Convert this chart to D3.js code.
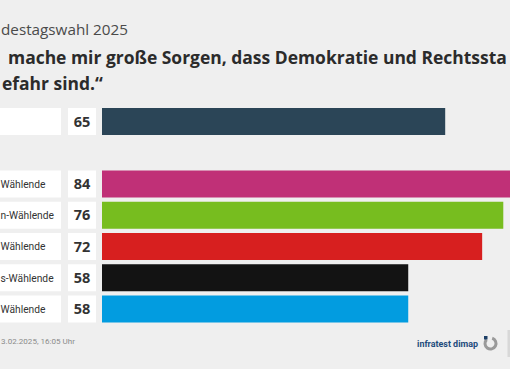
<!DOCTYPE html>
<html><head><meta charset="utf-8">
<script src="https://cdn.jsdelivr.net/npm/d3@7"></script>
<style>
html,body{margin:0;padding:0;background:#efefef;overflow:hidden;}
svg{display:block;}
</style></head>
<body>
<script>
// Visible text of the (left/right-cropped) reference
const kicker = "destagswahl 2025";
const headlineLines = ["mache mir große Sorgen, dass Demokratie und Rechtssta", "efahr sind.“"];
const categories = ["", "Wählende", "n-Wählende", "Wählende", "s-Wählende", "Wählende"];
const values = [65, 84, 76, 72, 58, 58];
const barColors = ["#2b4557", "#c03077", "#77bd1f", "#d71f1f", "#131313", "#029ce0"];
const sourceText = "3.02.2025, 16:05 Uhr";
const brandText = "infratest dimap";

const W = 510, H = 369;
const font = "'Open Sans', 'Noto Sans', sans-serif";
const narrow = "Roboto, 'Open Sans', sans-serif";
const svg = d3.select("body").append("svg").attr("width", W).attr("height", H);
svg.append("rect").attr("width", W).attr("height", H).attr("fill", "#efefef");

function measure(str, size, weight, fam) {
  const t = svg.append("text").attr("font-family", fam || font).attr("font-size", size).attr("font-weight", weight).text(str);
  const w = t.node().getComputedTextLength(); t.remove(); return w;
}
function fitSize(str, base, weight, target, fam) {
  return base * target / measure(str, base, weight, fam);
}

// kicker
const kSize = fitSize(kicker, 15, 400, 127);
svg.append("text").attr("x", 1).attr("y", 35).attr("font-family", font).attr("font-size", kSize)
  .attr("fill", "#4a4a4a").text(kicker);

// headline
const hSize = fitSize(headlineLines[0], 19, 700, 499);
svg.append("text").attr("x", 8).attr("y", 64)
  .attr("font-family", font).attr("font-size", hSize).attr("font-weight", 700).attr("fill", "#2b2b2b")
  .text(headlineLines[0]);
svg.append("text").attr("x", 2).attr("y", 90)
  .attr("font-family", font).attr("font-size", hSize).attr("font-weight", 700).attr("fill", "#2b2b2b")
  .text(headlineLines[1]);

// scales
const slots = ["r0", "_gap", "r1", "r2", "r3", "r4", "r5"];
const y = d3.scaleBand().domain(slots).range([108, 322.5]).paddingInner(0.136).paddingOuter(0);
const x = d3.scaleLinear().domain([0, 100]).range([102, 630]);
const rows = categories.map((c, i) => ({key: "r" + i, c, v: values[i], col: barColors[i]}));

const labelSize = fitSize("Wählende", 10, 400, 45, narrow);

const g = svg.append("g").selectAll("g").data(rows).join("g");
g.append("rect").attr("x", 0).attr("width", 61).attr("y", d => y(d.key)).attr("height", y.bandwidth()).attr("fill", "#fff");
g.append("rect").attr("x", 68).attr("width", 28).attr("y", d => y(d.key)).attr("height", y.bandwidth()).attr("fill", "#fff");
g.append("rect").attr("x", x(0)).attr("width", d => Math.min(x(d.v), W) - x(0)).attr("y", d => y(d.key)).attr("height", y.bandwidth()).attr("fill", d => d.col);
g.append("text").attr("x", 0.5).attr("y", d => y(d.key) + y.bandwidth() / 2).attr("dy", "0.37em")
  .attr("font-family", narrow).attr("font-size", labelSize).attr("font-weight", 400).attr("fill", "#333").text(d => d.c);
g.append("text").attr("x", 82).attr("y", d => y(d.key) + y.bandwidth() / 2).attr("dy", "0.36em").attr("text-anchor", "middle")
  .attr("font-family", font).attr("font-size", 14.5).attr("font-weight", 700).attr("fill", "#333").text(d => d.v);

// footer
svg.append("text").attr("x", 1).attr("y", 344)
  .attr("font-family", narrow).attr("font-size", fitSize(sourceText, 9, 400, 74, narrow)).attr("fill", "#8a8a8a").text(sourceText);
svg.append("text").attr("x", 478).attr("y", 347).attr("text-anchor", "end")
  .attr("font-family", narrow).attr("font-size", fitSize(brandText, 9, 700, 61, narrow)).attr("font-weight", 700).attr("fill", "#1d4b7c").text(brandText);
// logo
const arc = d3.arc().innerRadius(4).outerRadius(7).startAngle(0.1 * Math.PI).endAngle(1.75 * Math.PI);
svg.append("path").attr("d", arc()).attr("transform", "translate(490.5,343.5)").attr("fill", "#9a9a9a");
svg.append("rect").attr("x", 484).attr("y", 336).attr("width", 3.5).attr("height", 3.5).attr("fill", "#1d3f66");
svg.append("rect").attr("x", 507.5).attr("y", 330).attr("width", 2.5).attr("height", 27).attr("fill", "#d8d8d8");
</script>
</body></html>
